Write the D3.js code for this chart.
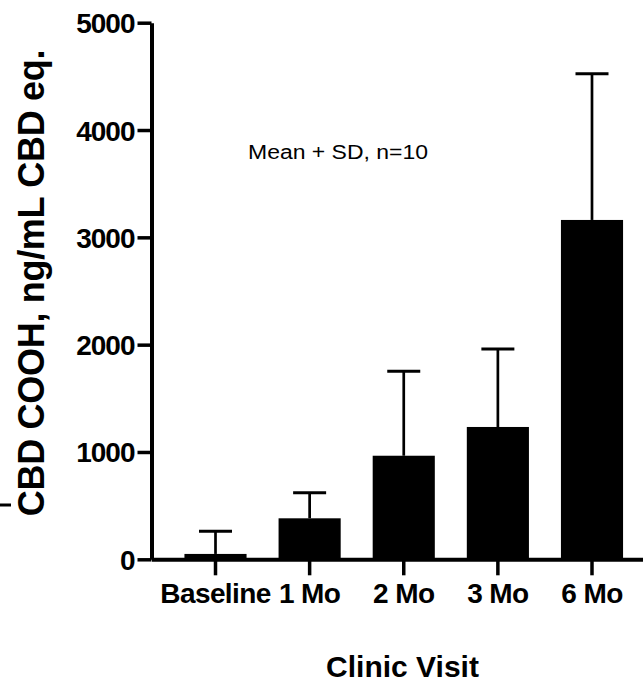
<!DOCTYPE html>
<html>
<head>
<meta charset="utf-8">
<script src="https://cdn.jsdelivr.net/npm/d3@7"></script>
<style>
	body { margin: 0; background: #fff; }
	svg { display: block; font-family: 'Liberation Sans', Arial, sans-serif; }
</style>
</head>
<body>
<svg id="chart" width="643" height="696"></svg>
<script>
'use strict'

const visits = ['Baseline', '1 Mo', '2 Mo', '3 Mo', '6 Mo']
const means = [50, 382, 965, 1233, 3162]
const sds = [211, 239, 787, 727, 1363]
const yTicks = [0, 1000, 2000, 3000, 4000, 5000]

const svg = d3.select('#chart')
const params = {
	left: 151.5,
	right: 656,
	top: 22.7,
	bottom: 559.3,
	axisWidth: 4,
	tickWidth: 3.5,
	errWidth: 2.7,
	capWidth: 33
}

const x = d3.scaleBand()
	.domain(visits)
	.range([params.left, params.right])
	.paddingInner(0.34)
	.paddingOuter(0.35)

const y = d3.scaleLinear()
	.domain([0, 5000])
	.range([params.bottom, params.top])

// bars
svg.append('g')
	.selectAll('rect')
	.data(visits)
	.enter()
	.append('rect')
	.attr('x', (d) => x(d))
	.attr('width', x.bandwidth())
	.attr('y', (d, i) => y(means[i]))
	.attr('height', (d, i) => y(0) - y(means[i]))
	.attr('fill', '#000')

// error bars (mean + SD only)
const err = svg.append('g')
	.attr('stroke', '#000')
visits.forEach((v, i) => {
	const cx = x(v) + x.bandwidth() / 2
	err.append('line')
		.attr('x1', cx).attr('x2', cx)
		.attr('y1', y(means[i])).attr('y2', y(means[i] + sds[i]))
		.attr('stroke-width', params.errWidth)
	err.append('line')
		.attr('x1', cx - params.capWidth / 2).attr('x2', cx + params.capWidth / 2)
		.attr('y1', y(means[i] + sds[i])).attr('y2', y(means[i] + sds[i]))
		.attr('stroke-width', 3)
})

// y axis
const yAxis = svg.append('g')
	.attr('transform', `translate(${params.left}, 0)`)
	.call(d3.axisLeft(y).tickValues(yTicks).tickFormat(d3.format('d')).tickSize(14).tickSizeOuter(0).tickPadding(3))
yAxis.select('.domain').attr('stroke-width', params.axisWidth)
yAxis.selectAll('.tick line').attr('stroke-width', params.tickWidth)
yAxis.selectAll('.tick text')
	.attr('font-size', 28)
	.attr('font-weight', 'bold')
	.attr('letter-spacing', -1)
	.attr('fill', '#000')
	.attr('dy', 10)

// x axis
const xAxis = svg.append('g')
	.attr('transform', `translate(0, ${params.bottom})`)
	.call(d3.axisBottom(x).tickSize(16).tickSizeOuter(0))
xAxis.select('.domain').attr('stroke-width', params.axisWidth)
xAxis.selectAll('.tick line').attr('stroke-width', params.tickWidth)
xAxis.selectAll('.tick text')
	.attr('font-size', 28)
	.attr('font-weight', 'bold')
	.attr('letter-spacing', -0.6)
	.attr('fill', '#000')
	.attr('y', 43.7)
	.attr('dy', 0)

// titles
svg.append('text')
	.attr('transform', 'translate(44, 283) rotate(-90)')
	.attr('text-anchor', 'middle')
	.attr('font-size', 36)
	.attr('font-weight', 'bold')
	.attr('letter-spacing', -0.3)
	.text('CBD COOH, ng/mL CBD eq.')

svg.append('text')
	.attr('x', 402.5)
	.attr('y', 677)
	.attr('text-anchor', 'middle')
	.attr('font-size', 30)
	.attr('font-weight', 'bold')
	.text('Clinic Visit')

svg.append('text')
	.attr('x', 248)
	.attr('y', 159)
	.attr('font-size', 20)
	.attr('textLength', 180)
	.attr('lengthAdjust', 'spacingAndGlyphs')
	.text('Mean + SD, n=10')

// stray mark at left edge
svg.append('line')
	.attr('x1', 0).attr('x2', 11)
	.attr('y1', 505).attr('y2', 505)
	.attr('stroke', '#000')
	.attr('stroke-width', 3)
</script>
</body>
</html>
